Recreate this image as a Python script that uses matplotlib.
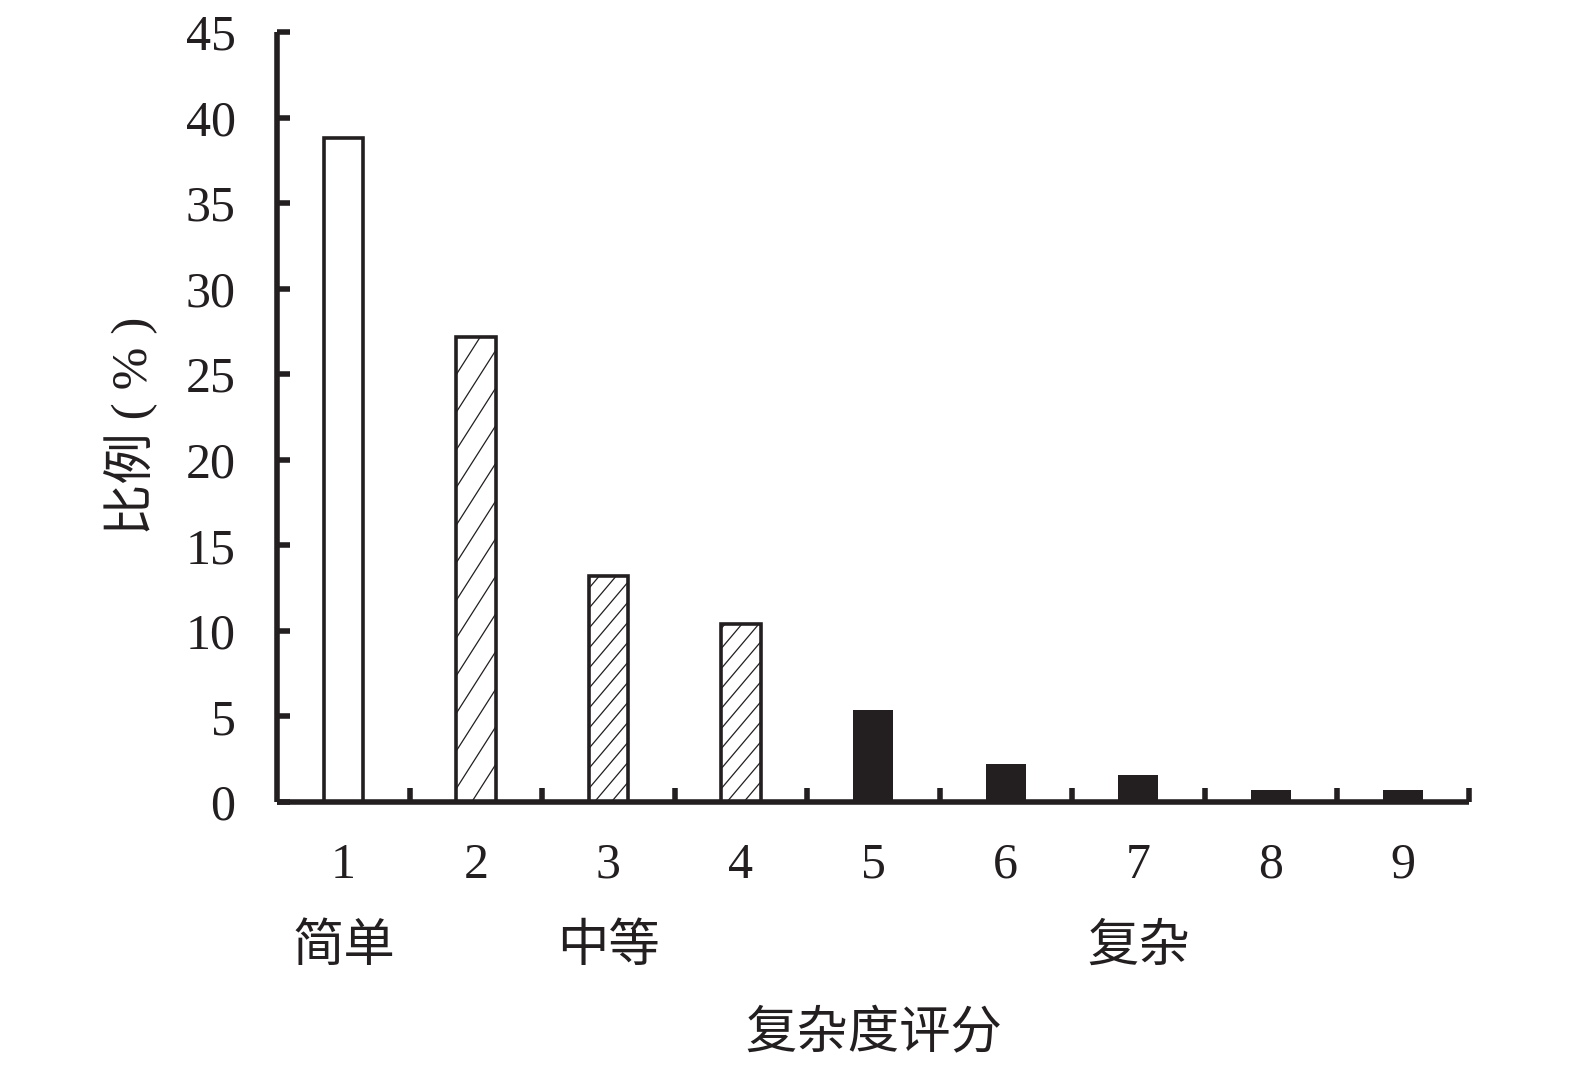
import matplotlib
matplotlib.use("Agg")
import matplotlib.pyplot as plt
import numpy as np

# data
scores = [1, 2, 3, 4, 5, 6, 7, 8, 9]
ratios = [38.8, 27.2, 13.2, 10.4, 5.4, 2.2, 1.6, 0.7, 0.7]
styles = ["empty", "hatch", "hatch", "hatch", "solid", "solid", "solid", "solid", "solid"]
groups = [(1, "简单"), (3, "中等"), (7, "复杂")]
yticks = list(range(0, 50, 5))

INK = "#231f20"
FONT = ["Liberation Serif", "Noto Sans CJK SC"]
plt.rcParams["font.family"] = FONT

fig = plt.figure(figsize=(15.75, 10.73), dpi=100)
ax = fig.add_axes([0.176, 0.2526, 0.757, 0.7176])

width = 0.3
for x, y, s in zip(scores, ratios, styles):
    if s == "solid":
        ax.bar(x, y, width, color=INK, edgecolor=INK, linewidth=0)
        continue
    fill = ax.bar(x, y, width, color="white", linewidth=0, zorder=1)[0]
    if s == "hatch":
        # diagonal hatching clipped to the bar; the tall bar has a stretched pattern
        if y > 20:
            rise, step = 3.4 / 0.28 * width, 2.2
        else:
            rise, step = 2.75, 1.17
        for y0 in np.arange(-rise, y + step, step):
            ln, = ax.plot([x - width / 2, x + width / 2], [y0, y0 + rise],
                          color=INK, lw=0.9, zorder=2)
            ln.set_clip_path(fill)
    ax.bar(x, y, width, fill=False, edgecolor=INK, linewidth=2.6, zorder=3)

ax.set_xlim(0.5, 9.5)
ax.set_ylim(0, 45)

for side in ["top", "right"]:
    ax.spines[side].set_visible(False)
for side in ["left", "bottom"]:
    ax.spines[side].set_linewidth(4)
    ax.spines[side].set_color(INK)
    ax.spines[side].set_capstyle("butt")
    ax.spines[side].set_zorder(4)

ax.set_yticks(yticks)
ax.set_yticklabels([str(t) for t in yticks])
ax.tick_params(axis="y", direction="in", length=9, width=4, color=INK,
               pad=30, labelsize=36, labelcolor=INK)

# major x ticks between bars, labels on minor ticks at bar centres
ax.set_xticks(np.arange(1.5, 10, 1.0))
ax.set_xticklabels([])
ax.tick_params(axis="x", which="major", direction="in", length=10, width=4, color=INK)
ax.set_xticks(scores, minor=True)
ax.set_xticklabels([str(s) for s in scores], minor=True)
ax.tick_params(axis="x", which="minor", length=0, pad=29, labelsize=36, labelcolor=INK)

for x, name in groups:
    ax.text(x, -0.19, name, transform=ax.get_xaxis_transform(), ha="center",
            va="center", fontsize=37, color=INK)

ax.text(0.5, -0.303, "复杂度评分", transform=ax.transAxes, ha="center",
        va="center", fontsize=37, color=INK)
ax.text(-0.122, 0.488, "比例 ( % )", transform=ax.transAxes, ha="center",
        va="center", rotation=90, fontsize=37, color=INK)

fig.savefig("out.png", dpi=100)
